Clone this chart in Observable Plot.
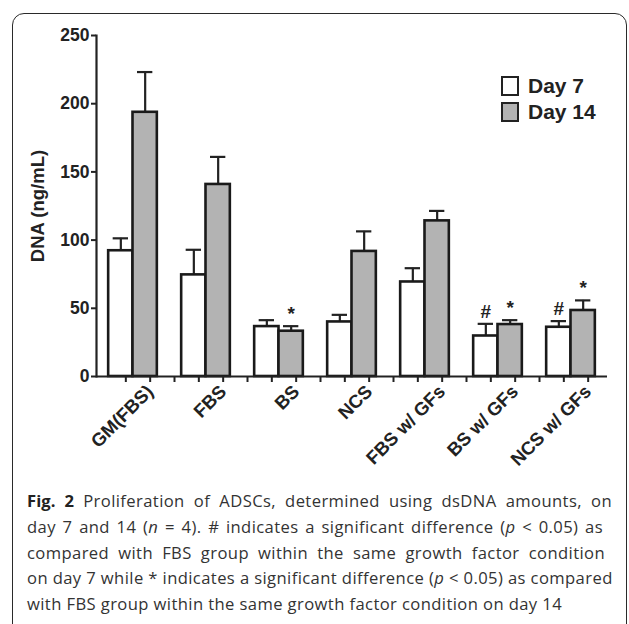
<!DOCTYPE html>
<html>
<head>
<meta charset="utf-8">
<script src="https://cdn.jsdelivr.net/npm/d3@7"></script>
<script src="https://cdn.jsdelivr.net/npm/@observablehq/plot@0.6"></script>
<style>
  html, body { margin: 0; padding: 0; background: #fff; }
  #wrap { position: relative; width: 629px; height: 624px; overflow: hidden; background: #fff; }
  #border { position: absolute; left: 12px; top: 13px; width: 615px; height: 660px; border: 1.6px solid #2a2a2a; border-radius: 12px; box-sizing: border-box; }
  #chart { position: absolute; left: 0; top: 0; }
  .lg-box { position: absolute; width: 18px; height: 20px; border: 2.2px solid #222; box-sizing: border-box; }
  .lg-text { position: absolute; font-family: "Liberation Sans", Arial, sans-serif; font-weight: bold; font-size: 21px; line-height: 21px; color: #222; white-space: nowrap; }
  #caption { position: absolute; left: 27px; top: 488px; font-family: "Open Sans", sans-serif; font-size: 16.6px; letter-spacing: 0.4px; line-height: 25.8px; color: #333; }
  #caption div { white-space: nowrap; }
  #caption .j { text-align: justify; text-align-last: justify; }
  #caption b { color: #222; letter-spacing: 0.1px; }
</style>
</head>
<body>
<div id="wrap">
  <div id="border"></div>
  <div id="chart"></div>
  <div class="lg-box" style="left:501px; top:76px; background:#ffffff;"></div>
  <div class="lg-text" style="left:528px; top:75px;">Day 7</div>
  <div class="lg-box" style="left:501px; top:102px; background:#b3b3b3;"></div>
  <div class="lg-text" style="left:528px; top:101px;">Day 14</div>
  <div id="caption">
    <div class="j" style="width:585px"><b>Fig. 2</b> Proliferation of ADSCs, determined using dsDNA amounts, on</div>
    <div class="j" style="width:576px">day 7 and 14 (<i>n</i> = 4). # indicates a significant difference (<i>p</i> &lt; 0.05) as</div>
    <div class="j" style="width:578px">compared with FBS group within the same growth factor condition</div>
    <div class="j" style="width:585px">on day 7 while * indicates a significant difference (<i>p</i> &lt; 0.05) as compared</div>
    <div>with FBS group within the same growth factor condition on day 14</div>
  </div>
</div>
<script>
const groups = ["GM(FBS)", "FBS", "BS", "NCS", "FBS w/ GFs", "BS w/ GFs", "NCS w/ GFs"];
const days = ["Day 7", "Day 14"];
const day7 = [92.2, 74.5, 36.6, 40.0, 69.3, 29.7, 36.1];
const day7Err = [9.1, 18.4, 4.7, 5.2, 10.1, 8.9, 4.5];
const day14 = [193.7, 140.8, 33.2, 91.7, 114.1, 38.1, 48.4];
const day14Err = [29.5, 20.2, 3.7, 14.7, 7.3, 3.2, 7.4];
const yTicks = [0, 50, 100, 150, 200, 250];
const marks = [
  {group: "BS", day: "Day 14", sym: "*"},
  {group: "BS w/ GFs", day: "Day 7", sym: "#"},
  {group: "BS w/ GFs", day: "Day 14", sym: "*"},
  {group: "NCS w/ GFs", day: "Day 7", sym: "#"},
  {group: "NCS w/ GFs", day: "Day 14", sym: "*"}
];
const colors = {"Day 7": "#ffffff", "Day 14": "#b3b3b3"};

const slotKey = (g, d) => g + "|" + d;
const slots = [];
groups.forEach((g, i) => {
  slots.push(slotKey(g, "Day 7"), slotKey(g, "Day 14"));
  if (i < groups.length - 1) slots.push("gap" + i);
});

const data = [];
groups.forEach((g, i) => {
  data.push({group: g, day: "Day 7", slot: slotKey(g, "Day 7"), value: day7[i], top: day7[i] + day7Err[i]});
  data.push({group: g, day: "Day 14", slot: slotKey(g, "Day 14"), value: day14[i], top: day14[i] + day14Err[i]});
});
const annot = marks.map(m => {
  const d = data.find(r => r.group === m.group && r.day === m.day);
  return {slot: d.slot, top: d.top, sym: m.sym};
});

const font = "Liberation Sans, Arial, sans-serif";
const plot = Plot.plot({
  width: 629,
  height: 480,
  marginLeft: 96,
  marginRight: 22,
  marginTop: 35,
  marginBottom: 104,
  style: {fontFamily: font, fontSize: "17px", color: "#222", background: "transparent"},
  x: {type: "band", domain: slots, paddingInner: 0, paddingOuter: 0.5, align: 0.5, round: false},
  y: {domain: [0, 250]},
  marks: [
    Plot.ruleX(data, {x: "slot", y1: "value", y2: "top", stroke: "#222", strokeWidth: 2.2}),
    Plot.tickY(data, {x: "slot", y: "top", stroke: "#222", strokeWidth: 2.2, insetLeft: 4.5, insetRight: 4.5}),
    Plot.barY(data, {x: "slot", y: "value", fill: d => colors[d.day], stroke: "#1a1a1a", strokeWidth: 2.6, inset: 0}),
    Plot.text(annot, {x: "slot", y: "top", text: "sym", dy: -12, fontSize: 19, fontWeight: "bold", fill: "#222"}),
    Plot.ruleY([0], {stroke: "#222", strokeWidth: 2.2}),
    Plot.frame({anchor: "left", stroke: "#222", strokeWidth: 2.2}),
    Plot.axisY({ticks: yTicks, tickSize: 5, tickPadding: 2, strokeWidth: 2, fontWeight: "bold", fontSize: 17.5,
      label: null}),
    Plot.axisY({ticks: [], tickSize: 0, label: "DNA (ng/mL)", labelAnchor: "center", labelOffset: 66,
      labelArrow: "none", fontWeight: "bold", fontSize: 18.5}),
    Plot.axisX({ticks: slots, tickSize: 6, strokeWidth: 2, tickPadding: 6, dx: 5,
      tickFormat: s => s.endsWith("|Day 14") ? s.split("|")[0] : "",
      tickRotate: -45, fontWeight: "bold", fontSize: 18.5, label: null})
  ]
});
document.getElementById("chart").appendChild(plot);
</script>
</body>
</html>
